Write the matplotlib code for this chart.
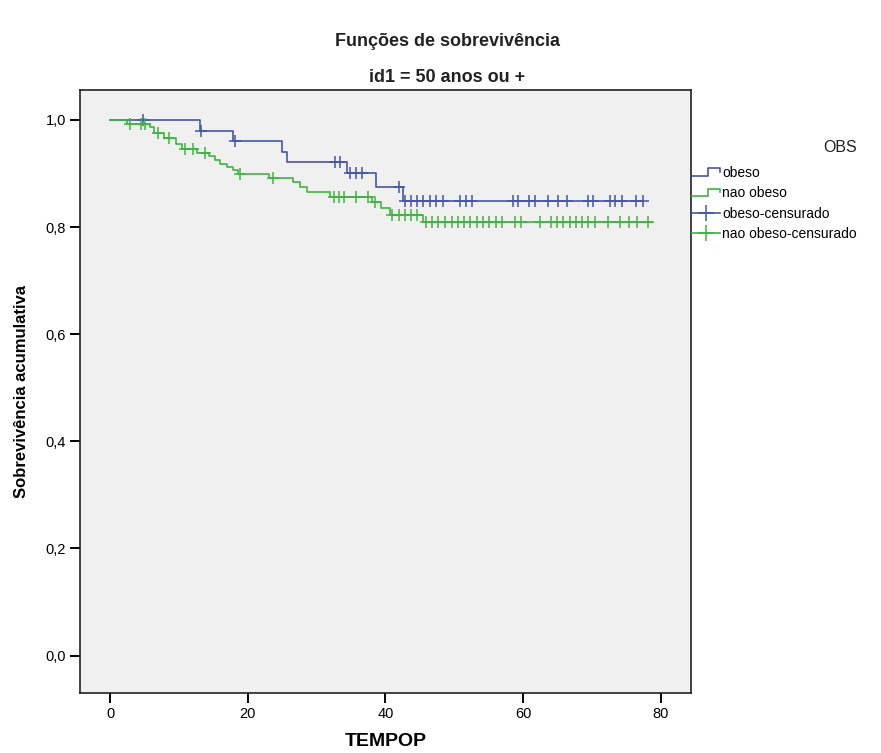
import matplotlib
matplotlib.use("Agg")
import matplotlib.pyplot as plt
import numpy as np
from matplotlib.legend_handler import HandlerBase
from matplotlib.lines import Line2D
from matplotlib.ticker import FuncFormatter

plt.rcParams["font.family"] = ["Liberation Sans", "DejaVu Sans"]

# Kaplan-Meier estimates (time, survival after the drop)
obeso_times = [13.0, 17.9, 24.9, 25.7, 34.4, 38.6, 42.5]
obeso_surv = [0.979, 0.960, 0.941, 0.921, 0.901, 0.875, 0.849]
obeso_cens = [4.8, 13.2, 18.1, 32.7, 33.4, 34.8, 35.7, 36.6, 41.9, 42.9, 43.7,
              44.6, 45.5, 46.4, 47.3, 48.4, 50.8, 51.7, 52.6, 58.6, 59.3, 60.9,
              61.8, 63.6, 65.1, 66.4, 69.4, 70.2, 72.6, 73.4, 74.3, 76.4, 77.4]
obeso_end = 77.4

nao_times = [2.4, 5.8, 6.3, 7.8, 9.6, 10.4, 12.6, 14.3, 15.2, 16.0, 16.9, 17.8,
             18.6, 23.0, 26.6, 27.6, 28.6, 31.9, 38.1, 39.3, 40.6, 45.4]
nao_surv = [0.993, 0.986, 0.976, 0.966, 0.956, 0.946, 0.939, 0.932, 0.925, 0.918,
            0.912, 0.906, 0.900, 0.892, 0.884, 0.875, 0.866, 0.856, 0.847, 0.836,
            0.823, 0.810]
nao_cens = [2.8, 4.5, 5.0, 7.0, 8.6, 10.9, 12.0, 13.8, 18.9, 23.6, 32.5, 33.2,
            34.0, 35.7, 37.4, 38.5, 41.0, 41.9, 42.8, 43.7, 44.6, 45.9, 46.8,
            47.7, 48.6, 49.6, 50.5, 51.4, 52.3, 53.3, 54.2, 55.1, 56.0, 56.9,
            58.8, 59.7, 62.5, 64.0, 64.9, 65.8, 66.8, 67.7, 68.6, 69.5, 70.5,
            72.3, 74.1, 75.4, 76.6, 78.1]
nao_end = 78.8

BLUE = "#4656a6"
GREEN = "#3fb43f"


def step_xy(times, surv, t_end):
    x = np.concatenate([[0.0], times, [t_end]])
    y = np.concatenate([[1.0], surv, [surv[-1]]])
    return x, y


def surv_at(times, surv, t):
    idx = np.searchsorted(times, t, side="right")
    s = np.concatenate([[1.0], surv])
    return s[idx]


class StepHandler(HandlerBase):
    def create_artists(self, legend, orig_handle, xdescent, ydescent,
                       width, height, fontsize, trans):
        x0, x1 = -xdescent, -xdescent + width
        y0, y1 = -ydescent + height * 0.1, -ydescent + height * 0.9
        xm = x0 + width * 0.55
        ln = Line2D([x0, xm, xm, x1, x1], [y0, y0, y1, y1, y1 - height * 0.4],
                    color=orig_handle.get_color(), lw=orig_handle.get_linewidth(),
                    transform=trans)
        return [ln]


fig = plt.figure(figsize=(8.81, 7.53), dpi=100, facecolor="white")
# axes box: x 80..691 px, y 90..693 px
ax = fig.add_axes([80 / 881, 1 - 693 / 753, 611 / 881, 603 / 753])
ax.set_facecolor("#f0f0f0")

for times, surv, cens, t_end, col in [
    (obeso_times, obeso_surv, obeso_cens, obeso_end, BLUE),
    (nao_times, nao_surv, nao_cens, nao_end, GREEN),
]:
    x, y = step_xy(times, surv, t_end)
    ax.step(x, y, where="post", color=col, lw=1.2)
    cy = surv_at(np.array(times), np.array(surv), np.array(cens))
    ax.plot(cens, cy, ls="none", marker="+", ms=9, mew=1.1, color=col)

ax.set_xlim(-4.4, 84.4)
ax.set_ylim(-0.07, 1.056)
ax.set_xticks([0, 20, 40, 60, 80])
ax.set_yticks([0.0, 0.2, 0.4, 0.6, 0.8, 1.0])
ax.yaxis.set_major_formatter(FuncFormatter(lambda v, p: f"{v:.1f}".replace(".", ",")))
ax.tick_params(direction="out", length=7, width=1.4, labelsize=10.5, colors="black", pad=3)
for sp in ax.spines.values():
    sp.set_color("#222222")
    sp.set_linewidth(1.2)

ax.set_xlabel("TEMPOP", fontsize=14, fontweight="bold", labelpad=9)
ax.set_ylabel("Sobrevivência acumulativa", fontsize=12, fontweight="bold", labelpad=12)

fig.text(0.508, 1 - 42 / 753, "Funções de sobrevivência", ha="center", va="center",
         fontsize=13, fontweight="bold", color="#222222")
fig.text(0.508, 1 - 78 / 753, "id1 = 50 anos ou +", ha="center", va="center",
         fontsize=13, fontweight="bold", color="#222222")

h1 = Line2D([], [], color=BLUE, lw=1.2)
h2 = Line2D([], [], color=GREEN, lw=1.2)
h3 = Line2D([], [], color=BLUE, lw=1.2, marker="+", ms=11, mew=1.1)
h4 = Line2D([], [], color=GREEN, lw=1.2, marker="+", ms=11, mew=1.1)
leg = fig.legend([h1, h2, h3, h4],
                 ["obeso", "nao obeso", "obeso-censurado", "nao obeso-censurado"],
                 title="OBS", loc="upper left", bbox_to_anchor=(0.786, 1 - 140 / 753),
                 frameon=False, fontsize=10, title_fontsize=11.5,
                 handlelength=2.0, handletextpad=0.15, labelspacing=0.45,
                 borderaxespad=0, borderpad=0,
                 handler_map={h1: StepHandler(), h2: StepHandler()})
leg._legend_box.align = "right"
leg._legend_box.sep = 8
plt.setp(leg.get_title(), color="#222222")

fig.savefig("out.png", dpi=100, facecolor="white")
